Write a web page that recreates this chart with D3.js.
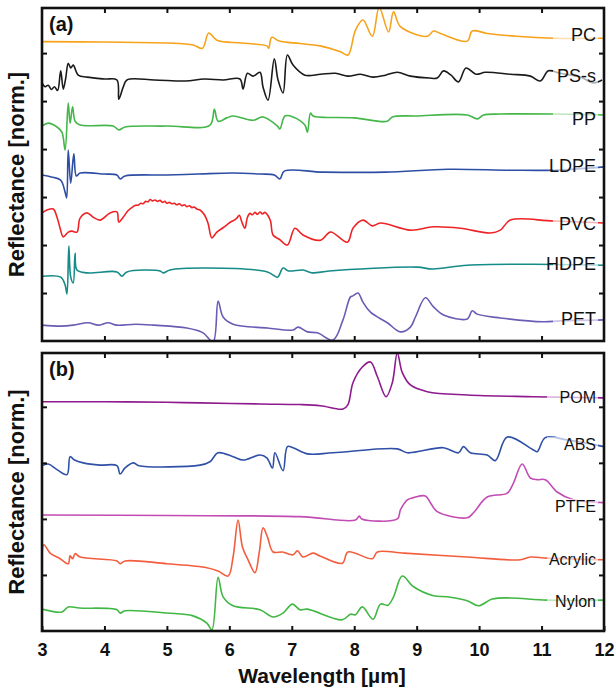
<!DOCTYPE html>
<html>
<head>
<meta charset="utf-8">
<script src="https://cdn.jsdelivr.net/npm/d3@7"></script>
<style>
body { margin: 0; background: #fff; }
text { font-family: "Liberation Sans", Arial, Helvetica, sans-serif; }
</style>
</head>
<body>
<svg id="chart" width="615" height="692"></svg>
<script>
// ---- data: [wavelength (um), normalized reflectance + stack offset] ----
// panel (a)
var pcData = [[3.0,6.24],[4.0,6.23],[5.0,6.21],[5.42,6.17],[5.57,6.10],[5.67,6.42],[5.8,6.27],[6.2,6.21],[6.6,6.15],[6.63,6.10],[6.68,6.33],[6.8,6.25],[7.13,6.20],[7.45,6.15],[7.78,6.03],[7.9,5.96],[8.02,6.48],[8.14,6.69],[8.29,6.35],[8.4,6.95],[8.55,6.44],[8.63,6.86],[8.74,6.55],[9.17,6.35],[9.27,6.46],[9.38,6.41],[9.81,6.25],[9.89,6.46],[10.13,6.41],[10.6,6.35],[11.19,6.31],[12,6.31]];
var pssData = [[3.0,5.38],[3.05,5.30],[3.1,5.33],[3.15,5.24],[3.2,5.30],[3.25,5.22],[3.3,5.63],[3.34,5.25],[3.38,5.48],[3.42,5.79],[3.46,5.69],[3.5,5.75],[3.58,5.54],[3.72,5.50],[4.0,5.46],[4.2,5.44],[4.23,5.04],[4.3,5.29],[4.36,5.44],[4.8,5.44],[5.3,5.42],[5.6,5.46],[5.9,5.44],[6.17,5.46],[6.22,5.25],[6.29,5.58],[6.38,5.52],[6.49,5.60],[6.54,5.29],[6.62,5.02],[6.72,5.88],[6.78,5.44],[6.86,5.17],[6.93,5.96],[7.02,5.75],[7.21,5.54],[7.46,5.56],[7.7,5.58],[7.9,5.52],[8.1,5.56],[8.3,5.50],[8.5,5.54],[8.69,5.60],[8.9,5.52],[9.2,5.48],[9.33,5.48],[9.43,5.63],[9.55,5.54],[9.67,5.40],[9.79,5.69],[9.95,5.56],[10.1,5.60],[10.5,5.56],[10.82,5.52],[10.98,5.42],[11.11,5.63],[11.3,5.58],[11.62,5.50],[11.83,5.38],[11.97,5.44]];
var ppData = [[3.0,4.48],[3.10,4.54],[3.24,4.46],[3.32,4.35],[3.37,3.98],[3.42,4.96],[3.45,4.54],[3.49,4.88],[3.53,4.58],[3.61,4.50],[4.14,4.48],[4.23,4.40],[4.33,4.46],[5.0,4.48],[5.69,4.50],[5.76,4.83],[5.82,4.58],[5.96,4.65],[6.06,4.69],[6.38,4.60],[6.54,4.67],[6.77,4.48],[6.81,4.42],[6.89,4.69],[7.02,4.67],[7.21,4.50],[7.25,4.35],[7.30,4.75],[7.34,4.69],[8.0,4.65],[8.53,4.58],[8.61,4.67],[9.0,4.69],[9.81,4.71],[9.97,4.63],[10.07,4.71],[10.34,4.73],[11.19,4.73],[12,4.71]];
var ldpeData = [[3.0,3.46],[3.15,3.42],[3.30,3.35],[3.37,3.10],[3.395,2.98],[3.42,3.98],[3.46,3.29],[3.51,3.90],[3.55,3.44],[3.61,3.50],[4.0,3.48],[4.2,3.46],[4.25,3.38],[4.33,3.44],[5.0,3.46],[5.5,3.48],[6.06,3.50],[6.5,3.48],[6.72,3.46],[6.81,3.38],[6.88,3.54],[7.5,3.52],[8.5,3.52],[9.5,3.58],[10.5,3.56],[11.2,3.56],[12,3.63]];
var pvcData = [[3.0,2.67],[3.08,2.73],[3.18,2.75],[3.24,2.58],[3.29,2.35],[3.34,2.17],[3.42,2.27],[3.48,2.29],[3.56,2.27],[3.61,2.56],[3.72,2.67],[3.82,2.58],[3.93,2.52],[4.09,2.67],[4.20,2.69],[4.23,2.48],[4.30,2.58],[4.38,2.72],[4.46,2.80],[4.50,2.83],[4.54,2.83],[4.58,2.87],[4.62,2.86],[4.66,2.91],[4.70,2.90],[4.73,2.95],[4.77,2.92],[4.81,2.94],[4.85,2.91],[4.89,2.93],[4.93,2.89],[4.97,2.91],[5.0,2.87],[5.04,2.89],[5.08,2.86],[5.12,2.87],[5.16,2.84],[5.20,2.86],[5.24,2.82],[5.28,2.84],[5.32,2.80],[5.36,2.82],[5.40,2.78],[5.44,2.79],[5.48,2.75],[5.53,2.73],[5.60,2.63],[5.66,2.45],[5.72,2.15],[5.80,2.27],[5.90,2.36],[5.96,2.42],[6.02,2.48],[6.08,2.52],[6.12,2.56],[6.16,2.62],[6.20,2.48],[6.25,2.35],[6.29,2.58],[6.33,2.66],[6.37,2.63],[6.41,2.68],[6.45,2.64],[6.49,2.69],[6.53,2.65],[6.57,2.68],[6.61,2.63],[6.66,2.50],[6.70,2.21],[6.80,2.12],[6.93,2.00],[7.05,2.35],[7.18,2.21],[7.46,2.10],[7.62,2.27],[7.89,2.06],[7.98,2.35],[8.14,2.52],[8.29,2.40],[8.42,2.46],[8.90,2.31],[9.27,2.38],[9.70,2.35],[10.18,2.25],[10.34,2.31],[10.50,2.52],[11.19,2.50],[12,2.46]];
var hdpeData = [[3.0,1.35],[3.3,1.33],[3.37,1.17],[3.40,0.98],[3.43,1.98],[3.46,1.33],[3.50,1.21],[3.53,1.83],[3.56,1.48],[3.72,1.42],[4.20,1.44],[4.28,1.35],[4.36,1.44],[4.89,1.46],[4.94,1.42],[5.05,1.48],[5.64,1.52],[6.61,1.44],[6.77,1.33],[6.86,1.52],[6.95,1.46],[7.18,1.48],[7.33,1.42],[7.6,1.46],[9.01,1.54],[9.25,1.50],[9.81,1.58],[10.87,1.60],[12,1.58]];
var petData = [[3.0,0.33],[3.3,0.31],[3.5,0.33],[3.74,0.38],[3.9,0.33],[4.06,0.38],[4.2,0.33],[4.5,0.35],[4.8,0.33],[5.32,0.27],[5.58,0.17],[5.74,-0.02],[5.82,0.83],[5.90,0.50],[6.06,0.35],[6.61,0.27],[7.02,0.23],[7.10,0.29],[7.25,0.19],[7.41,0.17],[7.66,0.02],[7.82,0.44],[7.94,0.92],[7.98,0.94],[8.06,1.00],[8.14,0.81],[8.26,0.60],[8.53,0.38],[8.74,0.19],[8.90,0.29],[8.98,0.50],[9.14,0.90],[9.27,0.71],[9.43,0.54],[9.81,0.46],[9.89,0.63],[9.97,0.56],[10.34,0.48],[11.03,0.40],[11.30,0.42],[12,0.44]];

// panel (b)
var pomData = [[3.0,4.09],[4.0,4.09],[5.0,4.08],[5.53,4.07],[6.5,4.05],[7.13,4.04],[7.46,4.02],[7.82,3.96],[7.90,4.04],[7.98,4.43],[8.13,4.71],[8.26,4.80],[8.37,4.54],[8.51,4.18],[8.61,4.43],[8.69,4.96],[8.77,4.61],[8.90,4.39],[9.17,4.27],[9.81,4.21],[10.87,4.18],[12,4.16]];
var absData = [[3.0,2.95],[3.1,2.98],[3.24,2.88],[3.40,2.79],[3.45,3.11],[3.52,3.05],[3.66,3.00],[3.93,2.96],[4.20,2.95],[4.25,2.80],[4.33,2.91],[4.46,3.00],[4.55,2.95],[5.53,2.96],[5.69,3.02],[5.82,3.18],[6.06,3.11],[6.22,3.05],[6.49,3.14],[6.6,3.09],[6.69,2.91],[6.73,3.18],[6.86,2.86],[6.93,3.29],[7.02,3.27],[7.25,3.16],[7.66,3.18],[8.69,3.25],[8.85,3.18],[9.43,3.27],[9.67,3.18],[9.75,3.29],[9.86,3.18],[10.13,3.14],[10.26,3.04],[10.45,3.46],[10.87,3.23],[10.93,3.20],[11.06,3.45],[11.41,3.41],[12,3.29]];
var ptfeData = [[3.0,2.07],[5.0,2.06],[7.13,2.04],[8.02,1.98],[8.08,2.05],[8.12,2.00],[8.69,2.00],[8.74,2.16],[8.85,2.34],[8.95,2.38],[9.14,2.41],[9.22,2.29],[9.33,2.13],[9.81,2.02],[9.91,2.11],[10.13,2.39],[10.45,2.46],[10.55,2.64],[10.69,2.98],[10.82,2.73],[10.93,2.70],[11.06,2.70],[11.25,2.48],[11.51,2.34],[12,2.29]];
var acrylicData = [[3.0,1.14],[3.03,1.54],[3.13,1.39],[3.29,1.29],[3.42,1.20],[3.45,1.34],[3.49,1.29],[3.53,1.38],[3.61,1.32],[4.20,1.25],[4.25,1.20],[4.33,1.25],[5.0,1.20],[5.64,1.13],[5.82,1.07],[5.98,0.98],[6.06,1.32],[6.14,1.98],[6.21,1.50],[6.30,1.27],[6.41,1.04],[6.48,1.41],[6.54,1.84],[6.61,1.68],[6.70,1.41],[6.85,1.41],[7.02,1.36],[7.09,1.43],[7.18,1.32],[7.34,1.39],[7.45,1.34],[7.81,1.21],[7.90,1.41],[8.29,1.29],[8.37,1.41],[8.8,1.39],[9.81,1.32],[10.66,1.27],[10.82,1.32],[11.09,1.30],[12,1.27]];
var nylonData = [[3.0,0.39],[3.32,0.34],[3.42,0.43],[3.6,0.41],[4.20,0.38],[4.25,0.32],[4.33,0.36],[5.0,0.32],[5.42,0.27],[5.64,0.14],[5.72,0.02],[5.82,0.96],[5.90,0.61],[6.06,0.45],[6.49,0.38],[6.70,0.25],[6.86,0.32],[7.01,0.48],[7.13,0.38],[7.25,0.39],[7.81,0.20],[7.94,0.30],[8.02,0.29],[8.13,0.43],[8.30,0.21],[8.42,0.48],[8.54,0.46],[8.63,0.61],[8.77,0.98],[8.95,0.79],[9.27,0.63],[9.49,0.61],[9.81,0.54],[9.99,0.45],[10.21,0.57],[10.50,0.59],[11.09,0.55],[12,0.55]];

var namesA = ['PC', 'PS-s', 'PP', 'LDPE', 'PVC', 'HDPE', 'PET'];
var namesB = ['POM', 'ABS', 'PTFE', 'Acrylic', 'Nylon'];
var xTicks = [3, 4, 5, 6, 7, 8, 9, 10, 11, 12];

// ---- series setup ----
var seriesA = [
  {name: namesA[0], data: pcData, color: '#f7a21b', dy: 3},
  {name: namesA[1], data: pssData, color: '#1a1a1a', dy: 2},
  {name: namesA[2], data: ppData, color: '#45b649', dy: 10},
  {name: namesA[3], data: ldpeData, color: '#2e4ea4', dy: 5},
  {name: namesA[4], data: pvcData, color: '#ee2326', dy: 7},
  {name: namesA[5], data: hdpeData, color: '#168b87', dy: 5},
  {name: namesA[6], data: petData, color: '#6a5cb4', dy: 5}
];
var seriesB = [
  {name: namesB[0], data: pomData, color: '#8e1a8e', dy: 5},
  {name: namesB[1], data: absData, color: '#2f50a6', dy: 3},
  {name: namesB[2], data: ptfeData, color: '#c24cb3', dy: 9},
  {name: namesB[3], data: acrylicData, color: '#f25d3d', dy: 5},
  {name: namesB[4], data: nylonData, color: '#41b744', dy: 7}
];

var svg = d3.select('#chart');
var x = d3.scaleLinear().domain([3, 12]).range([42, 604]);

var panels = [
  {id: 'a', series: seriesA, y: d3.scaleLinear().domain([0, 6.94]).range([341, 8]), yTicks: [1,2,3,4,5,6], fs: 18, boxX: 553, tag: '(a)'},
  {id: 'b', series: seriesB, y: d3.scaleLinear().domain([0, 4.96]).range([631, 353]), yTicks: [1,2,3,4], fs: 16, boxX: 547, tag: '(b)'}
];

panels.forEach(function(p, pi) {
  var top = p.y.range()[1], bottom = p.y.range()[0];
  var g = svg.append('g');

  svg.append('clipPath').attr('id', 'clip' + p.id)
    .append('rect').attr('x', 42).attr('y', top).attr('width', 562).attr('height', bottom - top);

  var line = d3.line()
    .x(function(d) { return x(d[0]); })
    .y(function(d) { return p.y(d[1]); })
    .curve(d3.curveCatmullRom.alpha(0.5));

  // spectra
  g.append('g').attr('clip-path', 'url(#clip' + p.id + ')')
    .selectAll('path').data(p.series).join('path')
    .attr('d', function(d) { return line(d.data); })
    .attr('fill', 'none')
    .attr('stroke', function(d) { return d.color; })
    .attr('stroke-width', 1.6)
    .attr('stroke-linejoin', 'round');

  // labels with translucent box
  var lab = g.selectAll('.lab').data(p.series).join('g').attr('class', 'lab');
  lab.append('rect')
    .attr('x', p.boxX)
    .attr('y', function(d) { return p.y(d.data[d.data.length - 1][1]) + d.dy - p.fs * 0.8; })
    .attr('width', 598 - p.boxX)
    .attr('height', p.fs * 0.95)
    .attr('fill', '#fff').attr('opacity', 0.65);
  lab.append('text')
    .attr('x', 596)
    .attr('y', function(d) { return p.y(d.data[d.data.length - 1][1]) + d.dy; })
    .attr('text-anchor', 'end')
    .attr('font-size', p.fs)
    .attr('fill', '#111')
    .text(function(d) { return d.name; });

  // inward ticks on all sides
  var inner = xTicks.slice(1, -1);
  var tickStyle = function(sel) {
    sel.select('.domain').remove();
    sel.selectAll('.tick line').attr('stroke', '#111').attr('stroke-width', 2);
  };
  g.append('g').attr('transform', 'translate(0,' + top + ')')
    .call(d3.axisTop(x).tickValues(inner).tickSize(-5).tickFormat(''))
    .call(tickStyle);
  var bottomAxis = g.append('g').attr('transform', 'translate(0,' + bottom + ')');
  if (pi === 1) {
    bottomAxis.call(d3.axisBottom(x).tickValues(xTicks).tickSize(-5).tickPadding(12).tickFormat(d3.format('d')))
      .call(tickStyle);
    bottomAxis.selectAll('text').attr('font-size', 18).attr('font-weight', 'bold').attr('fill', '#111')
      .attr('font-family', '"Liberation Sans", Arial, sans-serif');
  } else {
    bottomAxis.call(d3.axisBottom(x).tickValues(inner).tickSize(-5).tickFormat('')).call(tickStyle);
  }
  g.append('g').attr('transform', 'translate(42,0)')
    .call(d3.axisLeft(p.y).tickValues(p.yTicks).tickSize(-5).tickFormat('')).call(tickStyle);
  g.append('g').attr('transform', 'translate(604,0)')
    .call(d3.axisRight(p.y).tickValues(p.yTicks).tickSize(-5).tickFormat('')).call(tickStyle);

  // frame
  g.append('rect').attr('x', 42).attr('y', top).attr('width', 562).attr('height', bottom - top)
    .attr('fill', 'none').attr('stroke', '#111').attr('stroke-width', 2.6);

  // panel tag
  g.append('text').attr('x', 49).attr('y', top + 23)
    .attr('font-size', 20).attr('font-weight', 'bold').attr('fill', '#111')
    .text(p.tag);

  // y label
  g.append('text')
    .attr('transform', 'translate(24,' + ((top + bottom) / 2) + ') rotate(-90)')
    .attr('text-anchor', 'middle')
    .attr('font-size', 22).attr('font-weight', 'bold').attr('fill', '#111')
    .text('Reflectance [norm.]');
});

// x label
svg.append('text')
  .attr('x', 322).attr('y', 683)
  .attr('text-anchor', 'middle')
  .attr('font-size', 21).attr('font-weight', 'bold').attr('fill', '#111')
  .text('Wavelength [µm]');
</script>
</body>
</html>
